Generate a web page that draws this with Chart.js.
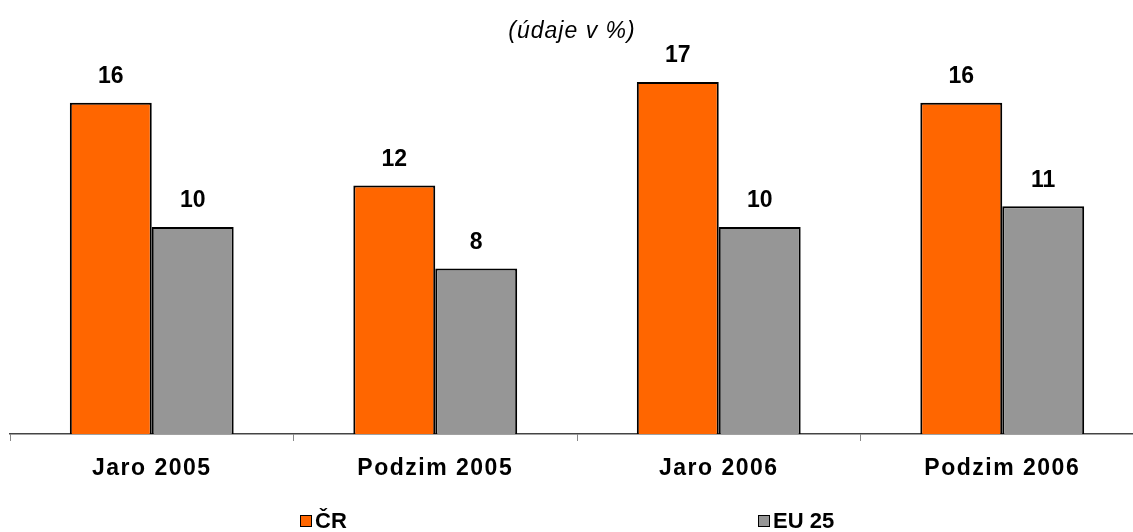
<!DOCTYPE html>
<html>
<head>
<meta charset="utf-8">
<script src="https://cdn.jsdelivr.net/npm/chart.js@4/dist/chart.umd.min.js"></script>
<style>
  html, body { margin: 0; padding: 0; background: #fff; }
  #wrap { width: 1133px; height: 532px; overflow: hidden; }
</style>
</head>
<body>
<div id="wrap"><canvas id="barChart" width="1144" height="532"></canvas></div>
<script>
// chart data
const categories = ['Jaro 2005', 'Podzim 2005', 'Jaro 2006', 'Podzim 2006'];
const seriesNames = ['ČR', 'EU 25'];
const crValues = [16, 12, 17, 16];
const euValues = [10, 8, 10, 11];
const titleText = '(údaje v %)';

const FONT = '"Liberation Sans", Arial, sans-serif';
const colors = ['#FF6600', '#969696'];

// title, value labels and legend drawn by hand
const extras = {
    id: 'extras',
    beforeDraw(chart) {
        // category labels in the original are slightly spaced out
        chart.ctx.letterSpacing = '1.5px';
    },
    afterDatasetsDraw(chart) {
        const ctx = chart.ctx;
        ctx.save();
        ctx.fillStyle = '#000';
        ctx.textAlign = 'center';
        ctx.textBaseline = 'middle';

        ctx.letterSpacing = '1px';
        ctx.font = 'italic 23px ' + FONT;
        ctx.fillText(titleText, chart.width / 2, 32);

        ctx.letterSpacing = '0px';
        ctx.font = 'bold 23px ' + FONT;
        chart.data.datasets.forEach((ds, i) => {
            chart.getDatasetMeta(i).data.forEach((bar, j) => {
                ctx.fillText(ds.data[j], bar.x, bar.y - 26);
            });
        });

        // legend
        const items = [{ x: 300 }, { x: 758 }];
        ctx.textAlign = 'left';
        ctx.font = 'bold 22px ' + FONT;
        items.forEach((it, i) => {
            ctx.fillStyle = colors[i];
            ctx.fillRect(it.x, 515, 12, 12);
            ctx.strokeStyle = '#000';
            ctx.lineWidth = 1;
            ctx.strokeRect(it.x + 0.5, 515.5, 11, 11);
            ctx.fillStyle = '#000';
            ctx.fillText(seriesNames[i], it.x + 15, 522);
        });
        ctx.restore();
    }
};

new Chart(document.getElementById('barChart').getContext('2d'), {
    type: 'bar',
    data: {
        labels: categories,
        datasets: [
            {
                label: seriesNames[0],
                data: crValues,
                backgroundColor: colors[0],
                borderColor: '#000',
                borderWidth: 2
            },
            {
                label: seriesNames[1],
                data: euValues,
                backgroundColor: colors[1],
                borderColor: '#000',
                borderWidth: 2
            }
        ]
    },
    options: {
        responsive: false,
        animation: false,
        devicePixelRatio: 1,
        layout: { padding: { left: 10, top: 20, right: 0, bottom: 0 } },
        plugins: {
            legend: { display: false },
            tooltip: { enabled: false }
        },
        datasets: {
            bar: { categoryPercentage: 0.578, barPercentage: 1 }
        },
        scales: {
            y: { display: false, min: 0, max: 20 },
            x: {
                afterFit: scale => { scale.height = 98; },
                border: { color: '#444', width: 1.5 },
                grid: {
                    drawOnChartArea: false,
                    drawTicks: true,
                    tickLength: 7,
                    color: '#888'
                },
                ticks: {
                    color: '#000',
                    padding: 14,
                    font: { family: FONT, size: 23, weight: 'bold' }
                }
            }
        }
    },
    plugins: [extras]
});
</script>
</body>
</html>
